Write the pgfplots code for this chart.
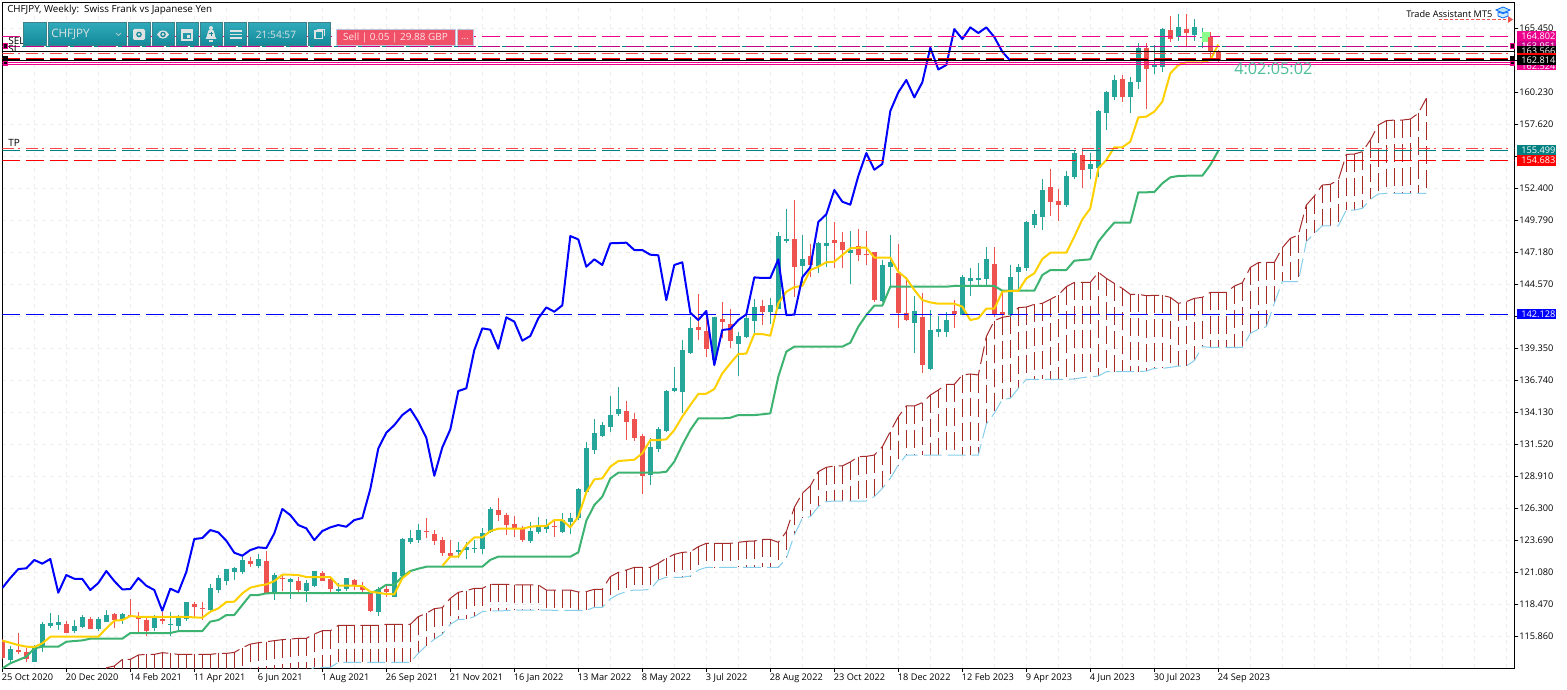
\documentclass[border=0pt]{standalone}
\usepackage{fontspec}
\setmainfont{Open Sans}
\usepackage{pgfplots}
\usepackage{pgfplotstable}
\pgfplotsset{compat=1.18}
\definecolor{bull}{RGB}{38,166,154}
\definecolor{bear}{RGB}{239,83,80}
\definecolor{kij}{RGB}{60,179,113}
\definecolor{ten}{RGB}{255,208,0}
\definecolor{cb}{RGB}{165,42,42}
\definecolor{cl}{RGB}{135,206,235}
\definecolor{gridc}{RGB}{238,238,238}
\definecolor{tom}{RGB}{255,70,70}
\definecolor{vio}{RGB}{199,0,133}
\definecolor{panT}{RGB}{48,170,186}
\definecolor{panB}{RGB}{18,136,152}
\definecolor{panE}{RGB}{60,130,140}
\definecolor{icon}{RGB}{222,226,226}
\definecolor{sellc}{RGB}{240,80,104}
\definecolor{selle}{RGB}{190,200,220}
\definecolor{cnt}{RGB}{80,190,155}
\newcommand{\tf}{\fontsize{6.9pt}{8pt}\selectfont}
\newcommand{\fs}[1]{\fontsize{#1pt}{9pt}\selectfont}
\pgfplotstableread{
i o c l h
1 113.93 114.80 113.66 115.07
4 113.79 115.02 113.79 115.15
5 115.02 116.87 114.61 117.06
6 116.73 116.95 116.54 117.74
7 116.81 117.03 116.38 117.60
9 116.29 116.70 116.16 117.19
10 116.62 117.44 116.51 117.60
12 116.46 117.27 116.32 117.41
13 117.03 117.60 117.00 118.01
15 117.19 117.65 116.87 117.74
19 116.54 117.46 116.29 117.60
21 116.76 116.87 115.91 117.87
22 116.70 117.41 116.38 117.60
23 117.25 118.66 117.14 118.66
26 118.01 119.80 117.95 120.13
27 119.64 120.62 119.42 120.89
28 120.40 121.35 120.05 121.35
29 121.13 121.41 120.45 121.54
30 121.08 122.09 120.94 122.44
32 121.60 122.17 121.41 122.55
34 119.45 120.86 118.82 121.00
36 120.32 120.54 118.93 120.65
38 119.58 120.21 118.63 120.45
39 119.97 121.19 119.86 121.22
42 119.58 119.72 119.50 120.18
43 119.69 120.62 119.58 120.62
47 117.87 119.75 117.55 119.86
49 119.09 121.11 119.04 121.13
50 120.78 123.80 120.73 123.85
51 123.58 123.88 123.39 124.53
52 123.72 124.53 123.50 125.02
57 122.71 122.90 122.22 123.53
58 122.93 123.12 122.14 123.58
59 123.01 123.06 122.68 123.72
60 123.01 124.26 122.58 124.67
61 124.40 126.25 124.26 126.44
66 123.63 124.45 123.44 125.21
67 124.39 124.75 124.20 125.62
68 124.61 124.94 124.31 125.43
70 124.39 125.35 124.31 125.89
71 125.21 125.51 124.20 125.89
72 125.48 127.87 125.35 127.93
73 127.66 131.19 127.52 131.73
74 131.06 132.47 130.73 133.58
75 132.22 133.09 132.14 133.37
76 132.96 133.91 132.55 135.46
77 133.99 134.40 133.83 136.17
81 129.02 131.27 128.20 132.01
82 131.11 132.74 130.92 132.96
83 132.61 135.87 132.50 135.95
84 135.90 136.09 135.82 137.80
85 135.82 139.21 134.05 140.03
86 138.94 140.98 138.89 141.88
89 138.40 141.88 138.13 141.93
92 139.73 140.36 137.12 140.66
93 140.27 141.80 140.22 142.21
94 141.61 142.69 140.44 143.37
96 142.31 142.86 141.34 143.43
97 142.59 148.51 142.53 148.81
98 148.08 148.24 147.97 150.72
100 146.07 146.61 144.65 148.60
102 146.07 147.92 145.47 148.05
103 147.73 147.94 146.01 150.36
106 147.15 147.37 144.57 148.92
110 143.21 146.15 143.16 146.56
111 146.01 146.37 144.44 148.60
114 141.44 142.40 138.94 143.65
116 137.66 140.85 137.58 142.48
117 140.71 140.93 140.30 141.99
118 140.71 141.66 140.30 142.34
120 142.07 145.14 142.07 145.33
121 144.87 145.09 143.62 145.88
122 144.92 145.09 144.44 146.28
123 145.01 146.61 144.52 147.64
126 142.07 145.14 141.93 146.15
127 145.60 145.96 144.11 146.23
128 145.88 149.66 145.69 149.76
129 149.41 150.28 149.19 150.63
130 150.09 152.27 149.00 153.16
133 151.04 153.41 150.91 153.84
134 153.35 155.28 153.14 155.53
136 154.01 154.39 153.16 155.31
137 154.03 158.71 153.35 158.79
138 158.57 160.23 157.16 160.34
139 159.88 161.24 159.61 161.65
141 159.88 161.05 158.52 161.51
142 161.10 163.87 160.50 164.23
144 162.30 162.46 161.72 164.09
145 162.32 165.39 161.91 165.45
147 164.77 165.53 164.42 166.62
149 164.91 165.53 164.42 166.21
150 164.68 164.74 163.85 165.48
}\bullT
\pgfplotstableread{
i o c l h
0 115.56 114.12 113.98 115.61
2 114.74 114.55 114.42 116.10
3 114.58 113.98 113.74 114.93
8 116.84 116.13 116.10 117.11
11 117.27 116.46 116.43 117.41
14 117.65 117.19 116.57 117.74
16 117.60 117.52 117.41 118.90
17 117.46 117.25 116.16 117.87
18 117.19 116.29 115.91 117.46
20 117.27 117.14 116.87 117.87
24 118.50 118.22 117.46 118.69
25 118.20 118.06 117.19 118.69
31 121.98 121.79 121.54 122.36
33 122.00 119.42 119.37 122.82
35 120.62 120.56 119.56 120.86
37 120.37 119.64 119.42 120.67
40 121.00 120.37 120.37 121.22
41 120.54 119.69 119.50 120.73
44 120.45 119.99 119.64 120.56
45 119.99 119.64 119.50 120.32
46 119.42 117.95 117.87 119.50
48 119.72 119.45 119.09 120.13
53 124.48 124.34 123.85 125.48
54 124.21 123.66 123.31 124.53
55 123.69 122.68 122.41 123.93
56 122.68 122.44 122.30 123.72
62 126.16 125.75 125.26 127.17
63 125.75 124.94 124.12 125.94
64 125.02 124.67 123.99 125.67
65 124.58 123.71 123.58 124.86
69 124.86 124.80 123.99 125.40
78 134.24 133.37 131.87 135.05
79 133.58 132.06 131.82 134.10
80 132.20 128.96 127.47 132.36
87 141.09 140.87 140.03 143.76
88 140.76 139.32 138.67 142.07
90 141.72 141.53 140.17 143.10
91 141.34 139.98 139.35 142.56
95 142.80 142.34 141.25 143.29
99 148.27 146.01 143.56 151.45
101 146.88 146.15 145.20 147.83
104 148.19 147.97 145.88 149.63
105 148.02 147.37 145.88 148.81
107 147.70 146.99 146.47 149.08
108 147.05 146.94 146.15 148.92
109 147.18 143.29 143.16 147.18
112 145.52 142.26 141.04 147.86
113 142.21 141.66 141.61 145.14
115 141.93 137.99 137.37 143.89
119 142.40 142.12 140.98 143.29
124 146.23 142.07 141.88 147.64
125 142.31 142.10 141.93 143.84
131 152.51 151.31 150.15 153.95
132 151.37 151.07 149.76 152.32
135 155.12 153.92 152.46 155.66
140 161.32 159.82 159.47 161.65
143 163.87 162.10 158.84 164.22
146 165.31 164.58 164.36 166.45
148 165.39 165.07 163.95 166.62
151 164.77 163.54 162.87 165.17
152 163.60 162.81 162.70 163.68
}\bearT
\pgfplotstableread{
i up lo
13 113.30 112.90
14 113.44 112.90
15 113.98 112.90
16 113.98 112.90
17 114.34 112.90
18 114.39 112.90
19 114.39 112.90
20 114.53 112.90
21 114.47 112.90
22 114.39 112.90
23 114.39 112.90
24 114.39 112.90
25 114.39 112.90
26 114.39 112.90
27 114.47 112.90
28 114.47 112.90
29 114.55 112.90
30 114.93 112.90
31 115.23 112.90
32 115.34 112.90
33 115.42 112.90
34 115.51 112.90
35 115.59 112.90
36 115.64 112.90
37 115.70 112.90
38 115.70 112.90
39 116.05 113.33
40 116.32 113.33
41 116.32 113.33
42 116.76 113.74
43 116.76 113.74
44 116.76 113.74
45 116.76 113.74
46 116.76 113.74
47 116.76 113.74
48 116.84 113.74
49 116.84 113.74
50 116.84 113.74
51 116.84 113.74
52 117.47 114.48
53 117.74 115.10
54 118.12 115.62
55 118.20 116.03
56 118.96 116.84
57 119.45 117.25
58 119.59 117.25
59 119.78 117.47
60 119.78 117.88
61 120.11 117.93
62 120.11 117.93
63 120.11 117.96
64 120.05 118.01
65 120.05 118.01
66 120.05 118.01
67 120.05 118.01
68 119.64 118.01
69 119.64 117.98
70 119.64 117.98
71 119.64 117.98
72 119.48 117.98
73 119.51 117.98
74 119.70 118.23
75 119.70 118.23
76 120.73 118.91
77 121.08 119.29
78 121.27 119.51
79 121.49 119.64
80 121.49 119.64
81 121.49 119.70
82 121.82 120.46
83 122.23 120.68
84 122.55 120.68
85 122.71 120.68
86 122.76 120.78
87 123.17 121.27
88 123.45 121.49
89 123.45 121.49
90 123.45 121.49
91 123.45 121.49
92 123.53 121.49
93 123.61 121.49
94 123.64 121.49
95 123.77 121.49
96 123.77 121.49
97 123.53 121.49
98 124.40 122.22
99 126.38 124.13
100 127.53 125.49
101 128.13 125.62
102 129.29 126.44
103 129.65 126.85
104 129.76 126.90
105 129.76 126.90
106 130.08 126.90
107 130.52 126.90
108 130.54 126.90
109 130.65 127.25
110 131.33 127.93
111 132.56 128.75
112 133.78 129.84
113 134.65 130.65
114 134.65 130.65
115 134.92 130.65
116 135.54 130.65
117 135.95 130.65
118 136.41 130.65
119 136.41 130.65
120 137.18 130.65
121 137.26 130.65
122 137.18 130.65
123 140.30 133.18
124 141.61 134.05
125 141.88 135.19
126 141.99 135.27
127 142.67 136.09
128 142.72 136.82
129 142.94 136.82
130 143.02 136.82
131 143.35 136.82
132 143.70 136.82
133 144.38 136.82
134 144.73 136.85
135 144.73 136.96
136 144.73 137.04
137 145.55 137.09
138 145.06 137.45
139 144.65 137.45
140 144.24 137.45
141 143.75 137.45
142 143.75 137.45
143 143.65 137.50
144 143.67 137.72
145 143.67 137.72
146 143.51 137.80
147 143.02 137.91
148 143.16 137.91
149 143.43 138.35
150 143.51 139.49
151 143.92 139.43
152 143.92 139.43
153 143.92 139.43
154 144.43 139.43
155 144.70 139.43
156 145.95 140.57
157 146.34 140.90
158 146.36 141.12
159 146.36 143.02
160 147.56 144.79
161 148.32 144.79
162 148.59 144.79
163 151.04 148.05
164 151.77 148.73
165 152.67 149.35
166 152.73 149.35
167 153.08 149.35
168 155.17 150.63
169 155.20 150.63
170 155.39 150.77
171 156.34 151.50
172 157.57 151.94
173 157.92 151.99
174 157.97 151.99
175 157.97 151.99
176 158.05 151.99
177 158.52 151.99
178 159.74 151.99
}\cloudT
\pgfplotstableread{
i y
0 119.80
1 120.62
2 121.35
3 121.41
4 122.09
5 121.79
6 122.17
7 119.42
8 120.86
9 120.56
10 120.54
11 119.64
12 120.21
13 121.19
14 120.37
15 119.69
16 119.72
17 120.62
18 119.99
19 119.64
20 117.95
21 119.75
22 119.45
23 121.11
24 123.80
25 123.88
26 124.53
27 124.34
28 123.66
29 122.68
30 122.44
31 122.90
32 123.12
33 123.06
34 124.26
35 126.25
36 125.75
37 124.94
38 124.67
39 123.71
40 124.45
41 124.75
42 124.94
43 124.80
44 125.35
45 125.51
46 127.87
47 131.19
48 132.47
49 133.09
50 133.91
51 134.40
52 133.37
53 132.06
54 128.96
55 131.27
56 132.74
57 135.87
58 136.09
59 139.21
60 140.98
61 140.87
62 139.32
63 141.88
64 141.53
65 139.98
66 140.36
67 141.80
68 142.69
69 142.34
70 142.86
71 148.51
72 148.24
73 146.01
74 146.61
75 146.15
76 147.92
77 147.94
78 147.97
79 147.37
80 147.37
81 146.99
82 146.94
83 143.29
84 146.15
85 146.37
86 142.26
87 141.66
88 142.40
89 137.99
90 140.85
91 140.93
92 141.66
93 142.12
94 145.14
95 145.09
96 145.09
97 146.61
98 142.07
99 142.10
100 145.14
101 145.96
102 149.66
103 150.28
104 152.27
105 151.31
106 151.07
107 153.41
108 155.28
109 153.92
110 154.39
111 158.71
112 160.23
113 161.24
114 159.82
115 161.05
116 163.87
117 162.10
118 162.46
119 165.39
120 164.58
121 165.53
122 165.07
123 165.53
124 164.74
125 163.54
126 162.81
}\chikouT
\pgfplotstableread{
i y
0 115.51
1 115.34
2 115.15
3 115.02
4 114.99
5 115.29
6 115.83
7 115.83
8 115.83
9 115.83
10 115.83
11 115.83
12 115.83
13 116.51
14 117.14
15 117.19
16 117.52
17 117.46
18 117.44
19 117.44
20 117.44
21 117.44
22 117.44
23 117.44
24 117.41
25 117.38
26 117.87
27 118.14
28 118.66
29 118.69
30 119.37
31 119.83
32 119.99
33 120.10
34 120.37
35 120.89
36 120.89
37 120.86
38 120.70
39 120.70
40 120.70
41 120.70
42 119.99
43 119.99
44 119.99
45 119.97
46 119.50
47 119.42
48 119.31
49 119.29
50 120.59
51 121.13
}\tenA
\pgfplotstableread{
i y
55 121.62
56 122.36
57 122.36
58 123.31
59 123.93
60 123.93
61 124.45
62 124.64
63 124.64
64 124.64
65 124.64
66 124.80
67 124.86
68 124.86
69 125.35
70 125.35
71 124.75
72 125.62
73 127.60
74 128.66
75 128.75
76 129.70
77 130.16
78 130.21
79 130.27
80 130.79
81 131.87
82 131.87
83 131.93
84 132.69
85 133.78
86 134.73
87 135.63
88 135.65
89 136.03
90 137.31
91 138.13
92 138.89
93 138.92
94 140.52
95 140.52
96 140.38
97 143.02
98 143.97
99 144.35
100 144.44
101 145.74
102 146.01
103 146.37
104 146.42
105 146.96
106 147.51
107 147.56
108 147.56
109 146.75
110 146.75
111 146.75
112 145.60
113 145.06
114 144.11
115 143.29
116 143.10
117 142.99
118 142.99
119 142.99
120 142.75
121 141.66
122 141.80
123 142.59
124 142.59
125 143.97
126 144.03
127 144.03
128 145.06
129 145.47
130 146.64
131 147.15
132 147.15
133 147.15
134 148.46
135 149.87
136 150.77
137 154.03
138 154.71
139 155.75
140 155.75
141 156.21
142 158.19
143 158.25
144 158.66
145 159.47
146 161.78
147 162.46
148 162.68
149 162.68
150 162.68
151 162.87
152 164.14
}\tenB
\pgfplotstableread{
i y
0 113.25
1 113.66
2 113.93
3 114.20
4 114.88
5 115.02
6 115.02
7 115.02
8 115.42
9 115.48
10 115.53
11 115.67
12 115.67
13 115.67
14 115.67
15 115.67
16 116.13
21 116.13
22 116.29
25 116.29
26 117.06
27 117.19
28 117.60
29 117.60
30 118.42
31 119.23
32 119.23
33 119.37
34 119.39
46 119.39
47 119.64
48 120.07
49 120.07
50 120.73
51 121.19
52 121.38
53 121.54
60 121.54
61 122.10
62 122.36
71 122.36
72 122.71
73 125.29
74 126.57
75 127.25
76 128.74
77 129.21
82 129.21
83 129.29
84 130.11
85 131.47
86 132.69
87 133.64
90 133.64
91 133.69
92 133.91
94 133.91
95 133.97
96 134.05
97 137.04
98 139.08
99 139.49
105 139.49
106 139.81
107 141.12
108 142.07
109 142.83
110 142.83
111 144.38
118 144.38
119 144.44
124 144.44
125 144.05
129 144.05
130 145.33
131 145.74
133 145.74
134 146.50
135 146.56
136 146.61
137 148.05
138 148.87
139 149.60
141 149.60
142 152.08
143 152.08
144 152.10
145 152.81
146 153.30
147 153.41
148 153.43
150 153.43
151 154.31
152 155.47
}\kijT
\newcommand{\hl}[3]{\addplot[#1,#2] coordinates {(0,#3) (189,#3)};}
\tikzset{
  dsh/.style={dash pattern=on 13.5pt off 4.5pt},
  dd/.style={dash pattern=on 9pt off 3pt on 1.5pt off 4.5pt},
  lab/.style={anchor=west,inner sep=0pt,text=white,font=\tf},
}
\begin{document}
\begin{tikzpicture}
\path[use as bounding box,fill=white] (0,0) rectangle (1175.25pt,516.75pt);
\begin{axis}[
  at={(1.725pt,15.75pt)},anchor=south west,scale only axis,
  width=1134pt,height=499.5pt,
  xmin=0,xmax=189,ymin=113.28,ymax=167.60,
  axis line style={black,line width=0.75pt},
  tick style={black,line width=0.75pt},
  tick align=outside,major tick length=3pt,minor tick length=0pt,
  xtick={0,8,...,152},
  xticklabels={25 Oct 2020,20 Dec 2020,14 Feb 2021,11 Apr 2021,6 Jun 2021,1 Aug 2021,26 Sep 2021,21 Nov 2021,16 Jan 2022,13 Mar 2022,8 May 2022,3 Jul 2022,28 Aug 2022,23 Oct 2022,18 Dec 2022,12 Feb 2023,9 Apr 2023,4 Jun 2023,30 Jul 2023,24 Sep 2023},
  minor xtick={4,12,20,28,36,44,52,60,68,76,84,92,100,108,116,124,132,140,148,156,160,164,168,172,176,180,184,188},
  ytick={115.86,118.47,121.08,123.69,126.30,128.91,131.52,134.13,136.74,139.35,141.96,144.57,147.18,149.79,152.40,155.01,157.62,160.23,162.84,165.45},
  yticklabels={115.860,118.470,121.080,123.690,126.300,128.910,131.520,134.130,136.740,139.350,{},144.570,147.180,149.790,152.400,{},157.620,160.230,{},165.450},
  ytick pos=right,xtick pos=bottom,yticklabel pos=right,
  xticklabel style={anchor=north west,font=\tf,inner sep=0pt,yshift=-1.3pt,xshift=-0.5pt},
  yticklabel style={anchor=west,font=\tf,inner sep=0pt,xshift=0.5pt},
  xmajorgrids,xminorgrids,ymajorgrids,
  grid style={gridc,line width=0.75pt,dash pattern=on 3pt off 3pt},
  minor grid style={gridc,line width=0.75pt,dash pattern=on 3pt off 3pt},
  clip=true,
]
% cloud
\addplot[cb,line width=0.75pt,dsh,quiver={u=0,v=\thisrow{lo}-\thisrow{up}}] table[x=i,y=up]{\cloudT};
\addplot[cb,line width=0.75pt,dsh] table[x=i,y=up]{\cloudT};
\addplot[cl,line width=0.75pt,dsh] table[x=i,y=lo]{\cloudT};
% candles
\addplot[draw=none,no markers,error bars/.cd,y dir=both,y explicit,error mark=none,error bar style={bull,line width=0.85pt}] table[x=i,y=l,y error plus expr=\thisrow{h}-\thisrow{l},y error minus expr=0]{\bullT};
\addplot[draw=none,no markers,error bars/.cd,y dir=both,y explicit,error mark=none,error bar style={bull,line width=3.9pt}] table[x=i,y=o,y error plus expr=\thisrow{c}-\thisrow{o},y error minus expr=0]{\bullT};
\addplot[draw=none,no markers,error bars/.cd,y dir=both,y explicit,error mark=none,error bar style={bear,line width=0.85pt}] table[x=i,y=l,y error plus expr=\thisrow{h}-\thisrow{l},y error minus expr=0]{\bearT};
\addplot[draw=none,no markers,error bars/.cd,y dir=both,y explicit,error mark=none,error bar style={bear,line width=3.9pt}] table[x=i,y=c,y error plus expr=\thisrow{o}-\thisrow{c},y error minus expr=0]{\bearT};
% lines
\addplot[kij,line width=1.5pt,line join=round] table[x=i,y=y]{\kijT};
\addplot[ten,line width=1.5pt,line join=round] table[x=i,y=y]{\tenA};
\addplot[ten,line width=1.5pt,line join=round] table[x=i,y=y]{\tenB};
\addplot[blue,line width=1.5pt,line join=round] table[x=i,y=y]{\chikouT};
% horizontal objects
\hl{magenta,line width=0.8pt}{dsh}{164.802}
\hl{teal,line width=0.75pt}{dash pattern=on 13.5pt off 4.5pt,dash phase=3pt}{163.951}
\hl{vio,line width=0.75pt}{dsh}{163.951}
\hl{black,line width=0.75pt}{solid}{163.566}
\hl{tom,line width=0.75pt}{dd}{163.41}
\hl{magenta,line width=0.8pt}{solid}{162.65}
\hl{magenta,line width=0.8pt}{solid}{162.48}
\hl{black,line width=0.75pt}{solid}{162.814}
\hl{black,line width=1.5pt}{dsh}{162.91}
\hl{red,line width=0.85pt}{dsh}{163.01}
\hl{tom,line width=0.75pt}{dd}{155.66}
\hl{teal,line width=0.75pt}{dsh}{155.499}
\hl{red,line width=0.75pt}{dsh}{154.683}
\hl{blue,line width=0.75pt}{dsh}{142.128}
\end{axis}
% overlay in image pixels
\begin{scope}[x=0.75pt,y=-0.75pt,yshift=516.75pt]
% trade rectangle
\fill[green!45!white] (1202.3,32.3) rectangle (1210,41.7);
\fill[bear] (1207.7,36.7) rectangle (1210,41.7);
% titles
\node[anchor=west,inner sep=0pt,font=\fs{7.35}] at (7,10) {CHFJPY, Weekly:\ \ Swiss Frank vs Japanese Yen};
\node[anchor=west,inner sep=0pt,font=\fs{7.5}] at (8,41) {SEL};
\node[anchor=west,inner sep=0pt,font=\fs{7.5}] at (8,49) {SL};
\node[anchor=west,inner sep=0pt,font=\fs{7.5}] at (8,143) {TP};
\node[anchor=west,inner sep=0pt,font=\tf] at (1406,14) {Trade Assistant MT5};
\draw[bear,line width=0.75pt,dash pattern=on 2.5pt off 1.5pt] (1439,19.5) -- (1509,19.5);
\fill[bear] (1508,16) -- (1513,19.5) -- (1508,23) -- cycle;
% graduation cap
\fill[cl!60!white,draw=blue!60!cyan,line width=0.6pt] (1496,10) -- (1503,7) -- (1510,10) -- (1503,13) -- cycle;
\draw[blue!60!cyan,line width=0.6pt,fill=cl!40!white] (1498,12) -- (1498,16) -- (1503,18) -- (1508,16) -- (1508,12) -- (1503,13.5) -- cycle;
\node[anchor=west,inner sep=0pt,text=cnt,font=\fontsize{12.2pt}{13pt}\selectfont] at (1234,69) {4:02:05:02};
% side markers
\fill[black] (3,56) rectangle (8,64);
\draw[magenta,line width=0.75pt] (3,62) rectangle (7,66);
\draw[magenta,line width=0.75pt,fill=black!80!vio] (3,44) rectangle (7,49);
\fill[black] (1510,56) rectangle (1514,64);
\draw[magenta,line width=0.75pt] (1510,62) rectangle (1514,66);
\draw[magenta,line width=0.75pt,fill=black!80!vio] (1510,44) rectangle (1514,49);
% right price boxes
\fill[magenta] (1517,61) rectangle (1556,70); \node[lab] at (1521,66) {162.524};
\fill[magenta] (1517,31) rectangle (1556,41); \node[lab] at (1521,36) {164.802};
\fill[vio] (1517,41) rectangle (1556,51); \node[lab] at (1521,46) {163.951};
\fill[black] (1517,46.5) rectangle (1556,54.5); \node[lab] at (1521,51) {163.566};
\fill[red] (1517,53) rectangle (1556,55);
\fill[black] (1517,55) rectangle (1556,65); \node[lab] at (1521,60.5) {162.814};
\fill[teal] (1517,145) rectangle (1556,155); \node[lab] at (1521,150) {155.499};
\fill[red] (1517,155) rectangle (1556,166); \node[lab] at (1521,160.5) {154.683};
\fill[blue] (1517,309) rectangle (1556,319); \node[lab] at (1521,314) {142.128};
% trade panel
\foreach \a/\b in {23/46,48/126,128/150,152/174,176/198,200/222,224/246,248/306,308/330}{
  \shade[top color=panT,bottom color=panB] (\a,23) rectangle (\b,46);
  \draw[panE,line width=0.75pt] (\a,23) rectangle (\b,46);
}
\node[anchor=west,inner sep=0pt,text=icon,font=\fs{8.7}] at (51,34.5) {CHFJPY};
\draw[icon!70!panB,line width=0.75pt] (116,33) -- (118.5,35.5) -- (121,33);
\node[inner sep=0pt,text=icon,font=\fs{7.6}] at (276,34.5) {21:54:57};
% camera
\fill[icon,rounded corners=1pt] (133,29) rectangle (145,40);
\fill[panB] (139,34.5) circle (2.8);
\fill[icon] (139,34.5) circle (1.5);
% eye
\fill[icon] (157,34.5) .. controls (160,29) and (166,29) .. (169,34.5) .. controls (166,40) and (160,40) .. (157,34.5);
\fill[panB] (163,34.5) circle (2.8);
\fill[icon] (163,34.5) circle (1.5);
% calendar
\draw[icon,line width=1.1pt] (182,30) rectangle (192,40);
\fill[icon] (182,30) rectangle (192,33);
\fill[icon] (187,35) rectangle (190,38);
% bell
\fill[icon] (211,28) circle (2);
\fill[icon] (205.5,39) .. controls (208,37) and (206.5,29) .. (211,29) .. controls (215.5,29) and (214,37) .. (216.5,39) -- cycle;
\fill[icon] (209,40) rectangle (213,42);
\draw[panB,line width=0.75pt] (209,34) -- (213,34) (211,32) -- (211,36);
% menu
\foreach \yy in {31,34.5,38}{\draw[icon,line width=1.3pt] (229.5,\yy) -- (241.5,\yy);}
% restore
\draw[icon,line width=1.3pt] (315,31) rectangle (322.5,38.5);
\draw[icon,line width=0.7pt] (317,29.5) -- (324,29.5) -- (324,36.5);
% sell
\fill[sellc,draw=selle,line width=0.75pt] (336,29.5) rectangle (455,46);
\node[inner sep=0pt,text=white!90!red,font=\fs{7.45}] at (395.5,38) {Sell | 0.05 | 29.88 GBP};
\fill[sellc,draw=selle,line width=0.75pt] (457,29.5) rectangle (473,46);
\node[inner sep=0pt,text=white!90!red,font=\fs{7.45}] at (465,38.5) {...};
\end{scope}
\end{tikzpicture}
\end{document}
